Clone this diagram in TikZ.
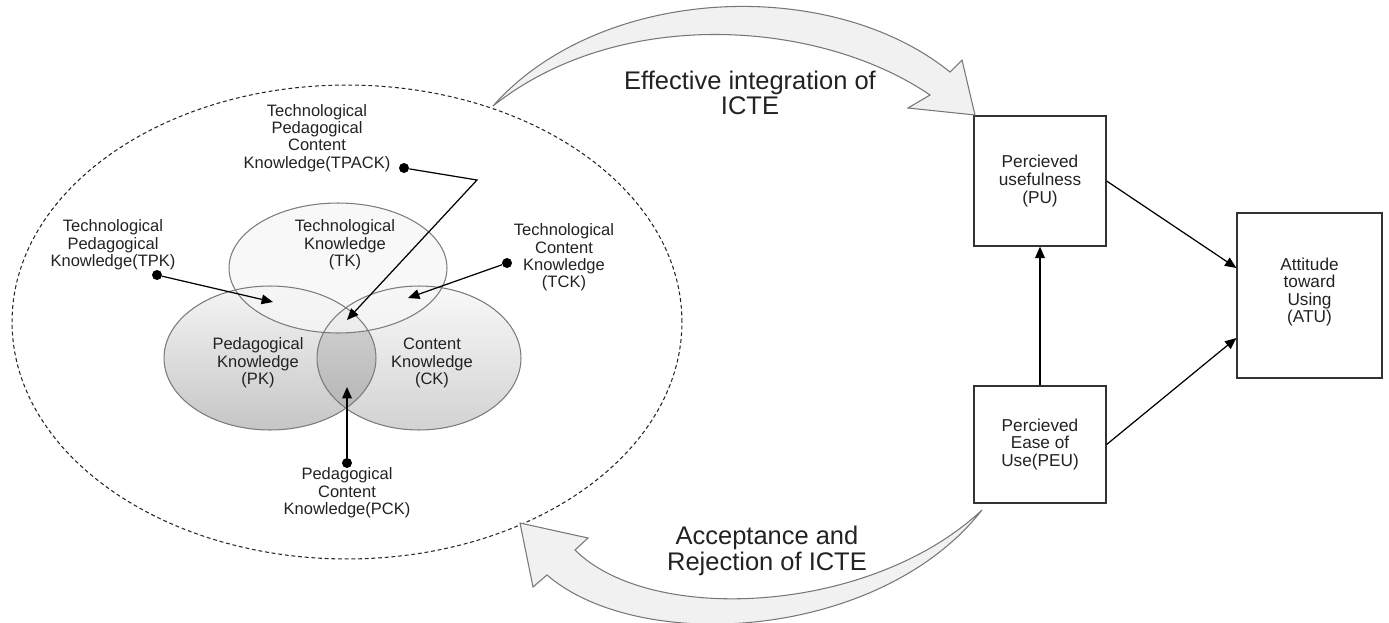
\documentclass[tikz,border=0pt]{standalone}
\usepackage{fontspec}
\setmainfont{Liberation Sans}
\usetikzlibrary{arrows.meta,shapes.geometric}
\definecolor{txt}{HTML}{222222}
\definecolor{vline}{HTML}{7C7C7C}
\definecolor{bigline}{HTML}{777777}
\definecolor{boxline}{HTML}{333333}
\begin{document}
\begin{tikzpicture}[x=0.02cm,y=-0.02cm,
  lbl/.style={align=center,font=\fontsize{9.4}{9.9}\selectfont,text=txt,inner sep=0pt},
  boxlbl/.style={draw=boxline,line width=0.7pt,align=center,font=\fontsize{9.8}{10}\selectfont,text=txt,inner sep=0pt},
  bigtxt/.style={align=center,font=\fontsize{14.5}{14.6}\selectfont,text=txt,inner sep=0pt},
  venn/.style={ellipse,draw=vline,line width=0.6pt,inner sep=0pt},
  dot/.style={circle,fill=black,inner sep=0pt,minimum size=0.2cm},
  arr/.style={draw=black,line width=0.7pt,-{Triangle[length=6.5pt,width=5.5pt]}},
  bigarrow/.style={draw=bigline,line width=0.6pt,fill=gray!11}
]
\useasboundingbox (0,0) rectangle (1389,622);

% dashed TPACK zone
\node[ellipse,draw=black!85,dash pattern=on 2.2pt off 1.6pt,line width=0.6pt,
      minimum width=13.4cm,minimum height=9.48cm,inner sep=0pt] (zone) at (347,322) {};

% Venn fills
\fill[top color=gray!8,bottom color=gray!45] (270,358) ellipse [x radius=2.12cm,y radius=1.44cm];
\fill[top color=gray!5,bottom color=gray!35] (419,358) ellipse [x radius=2.04cm,y radius=1.44cm];
\begin{scope}
  \clip (270,358) ellipse [x radius=2.12cm,y radius=1.44cm];
  \fill[top color=gray!30,bottom color=gray!62] (419,358) ellipse [x radius=2.04cm,y radius=1.44cm];
\end{scope}
\fill[gray!7,fill opacity=0.78] (338,268) ellipse [x radius=2.18cm,y radius=1.3cm];

% Venn outlines
\node[venn,minimum width=4.24cm,minimum height=2.88cm] (pk) at (270,358) {};
\node[venn,minimum width=4.08cm,minimum height=2.88cm] (ck) at (419,358) {};
\node[venn,minimum width=4.36cm,minimum height=2.6cm] (tk) at (338,268) {};

% Venn texts
\node[lbl] (tktext) at (345,245) {Technological\\Knowledge\\(TK)};
\node[lbl] (pktext) at (258,363) {Pedagogical\\Knowledge\\(PK)};
\node[lbl] (cktext) at (432,363) {Content\\Knowledge\\(CK)};

% outer labels
\node[lbl] (tpacktext) at (317,138) {Technological\\Pedagogical\\Content\\Knowledge(TPACK)};
\node[lbl] (tpktext) at (113,245) {Technological\\Pedagogical\\Knowledge(TPK)};
\node[lbl] (tcktext) at (564,257.5) {Technological\\Content\\Knowledge\\(TCK)};
\node[lbl] (pcktext) at (347,493) {Pedagogical\\Content\\Knowledge(PCK)};

% target points
\coordinate (ttpk) at (273,302);
\coordinate (bend) at (477,180);
\coordinate (ttpack) at (347,320);
\coordinate (ttck) at (408,298);
\coordinate (tpck) at (347,387);

% dots
\node[dot] (dtpk) at (157,275) {};
\node[dot] (dtpack) at (404,168) {};
\node[dot] (dtck) at (507,263) {};
\node[dot] (dpck) at (347,463) {};

\draw[arr] (dtpk) -- (ttpk);
\draw[arr] (dtpack) -- (bend) -- (ttpack);
\draw[arr] (dtck) -- (ttck);
\draw[arr] (dpck) -- (tpck);

% TAM boxes
\node[boxlbl,minimum width=2.64cm,minimum height=2.6cm] (pu) at (1040,181) {Percieved\\usefulness\\(PU)};
\node[boxlbl,minimum width=2.64cm,minimum height=2.34cm] (peu) at (1040,444.5) {Percieved\\Ease of\\Use(PEU)};
\node[boxlbl,minimum width=2.9cm,minimum height=3.3cm] (atu) at (1309.5,295.5) {Attitude\\toward\\ Using\\(ATU)\\[-4pt]\mbox{}};

\draw[arr] (peu) -- (pu);
\draw[arr] (pu.east) -- ([yshift=0.55cm]atu.west);
\draw[arr] (peu.east) -- ([yshift=-0.85cm]atu.west);

% big curved arrows
\draw[bigarrow] (493,106) .. controls (600,-15) and (830,-25) .. (950,72)
  -- (962,60) -- (975,115) -- (908,108) -- (930,95)
  .. controls (820,20) and (620,5) .. (493,106) -- cycle;
\draw[bigarrow] (982,510) .. controls (880,640) and (640,655) .. (547,575)
  -- (533,587) -- (520,523) -- (588,538) -- (575,550)
  .. controls (650,625) and (870,615) .. (982,510) -- cycle;

\node[bigtxt] (eff) at (750,93) {Effective integration of\\ICTE};
\node[bigtxt] (acc) at (767,551) {Acceptance and\\Rejection of ICTE};
\end{tikzpicture}
\end{document}
